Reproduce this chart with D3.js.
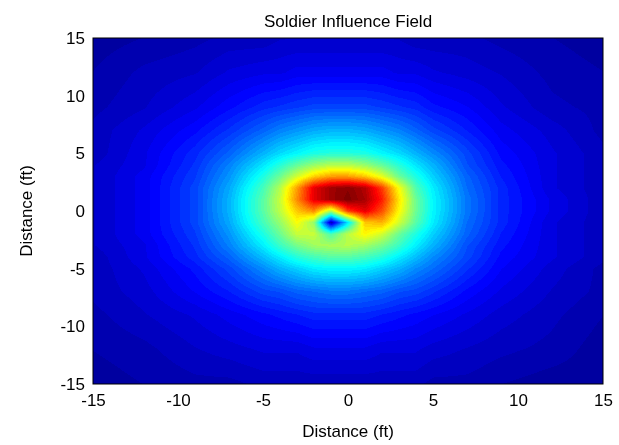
<!DOCTYPE html>
<html><head><meta charset="utf-8">
<script src="https://cdn.jsdelivr.net/npm/d3@7"></script>
<style>
body{margin:0;background:#fff;font-family:"Liberation Sans",Arial,sans-serif;}
#wrap{position:relative;width:619px;height:445px;}
canvas,svg{position:absolute;left:0;top:0;}
</style></head><body>
<div id="wrap"><canvas id="cv" width="619" height="445"></canvas><svg id="sv" width="619" height="445"></svg></div>
<script>
const TITLE = "Soldier Influence Field";
const X_LABEL = "Distance (ft)";
const Y_LABEL = "Distance (ft)";
const TICKS = [-15, -10, -5, 0, 5, 10, 15];

// sample nodes (ft) and field values, rows from y=15 down to y=-15
const xNodes = [-15,-12,-9,-7,-5,-4,-3,-2,-1,0,1,2,3,4,5,7,9,12,15];
const yNodes = [15,12,9,7,5,4,3,2,1,0,-1,-2,-3,-4,-5,-7,-9,-12,-15];
const field = [
[.03,.04,.05,.06,.06,.07,.07,.07,.07,.07,.07,.07,.07,.06,.06,.06,.05,.04,.03],
[.04,.06,.07,.09,.10,.10,.11,.11,.11,.11,.11,.11,.10,.10,.09,.08,.07,.05,.04],
[.05,.07,.10,.13,.16,.17,.18,.19,.19,.19,.19,.18,.17,.16,.14,.12,.09,.06,.05],
[.06,.09,.13,.17,.22,.25,.27,.29,.30,.30,.29,.27,.25,.22,.19,.15,.11,.08,.05],
[.06,.10,.16,.22,.30,.34,.37,.40,.41,.41,.40,.37,.34,.30,.26,.19,.13,.09,.06],
[.07,.10,.17,.25,.35,.41,.47,.52,.55,.55,.52,.47,.41,.35,.30,.20,.14,.09,.06],
[.07,.11,.18,.27,.40,.48,.58,.67,.72,.72,.68,.60,.48,.40,.33,.22,.15,.09,.06],
[.07,.11,.19,.29,.44,.55,.72,.90,.97,.99,.95,.82,.62,.45,.36,.23,.16,.09,.06],
[.07,.11,.19,.30,.46,.57,.74,.90,.97,1.0,.96,.85,.65,.48,.37,.24,.16,.10,.06],
[.07,.11,.19,.30,.46,.56,.68,.74,.55,.82,.90,.80,.63,.48,.37,.24,.16,.10,.06],
[.07,.11,.19,.29,.44,.52,.62,.52,.06,.35,.68,.70,.58,.46,.36,.23,.16,.09,.06],
[.07,.11,.18,.27,.40,.48,.57,.57,.45,.56,.63,.58,.48,.40,.33,.22,.15,.09,.06],
[.07,.10,.17,.25,.36,.43,.49,.53,.54,.55,.53,.49,.43,.36,.30,.20,.14,.09,.06],
[.06,.10,.16,.22,.31,.36,.41,.44,.46,.46,.44,.41,.36,.31,.26,.19,.13,.09,.06],
[.06,.09,.14,.19,.26,.30,.33,.36,.37,.37,.36,.33,.30,.26,.23,.17,.12,.08,.05],
[.06,.08,.12,.15,.19,.20,.22,.23,.24,.24,.23,.22,.20,.19,.17,.13,.10,.07,.05],
[.05,.07,.09,.11,.13,.14,.15,.16,.16,.16,.16,.15,.14,.13,.12,.10,.08,.06,.04],
[.04,.05,.07,.08,.09,.09,.09,.10,.10,.10,.10,.09,.09,.09,.08,.07,.06,.05,.03],
[.03,.04,.05,.05,.06,.06,.06,.06,.06,.06,.06,.06,.06,.06,.05,.05,.04,.03,.03]
];

const LEFT = 93, RIGHT = 603, TOP = 38, BOTTOM = 384;
const x = d3.scaleLinear().domain([-15, 15]).range([LEFT, RIGHT]);
const y = d3.scaleLinear().domain([-15, 15]).range([BOTTOM, TOP]);

// matlab jet, 64 levels
function jet(v) {
    v = Math.max(0, Math.min(1, v));
    v = Math.round(v * 63) / 63;
    const r = Math.max(0, Math.min(1, 1.5 - Math.abs(4 * v - 3)));
    const g = Math.max(0, Math.min(1, 1.5 - Math.abs(4 * v - 2)));
    const b = Math.max(0, Math.min(1, 1.5 - Math.abs(4 * v - 1)));
    return [r * 255, g * 255, b * 255];
}

// shading interp between sample nodes
const xi = d3.scaleLinear().domain(xNodes).range(d3.range(xNodes.length));
const yi = d3.scaleLinear().domain(yNodes).range(d3.range(yNodes.length));
function valueAt(fx, fy) {
    const u = xi(fx), w = yi(fy);
    const i = Math.min(Math.floor(u), xNodes.length - 2), j = Math.min(Math.floor(w), yNodes.length - 2);
    const a = u - i, b = w - j;
    return field[j][i] * (1 - a) * (1 - b) + field[j][i + 1] * a * (1 - b) +
        field[j + 1][i] * (1 - a) * b + field[j + 1][i + 1] * a * b;
}

const ctx = document.getElementById("cv").getContext("2d");
const img = ctx.createImageData(RIGHT - LEFT, BOTTOM - TOP);
for (let py = 0; py < BOTTOM - TOP; py++) {
    for (let px = 0; px < RIGHT - LEFT; px++) {
        const c = jet(valueAt(x.invert(LEFT + px + 0.5), y.invert(TOP + py + 0.5)));
        const k = (py * (RIGHT - LEFT) + px) * 4;
        img.data[k] = c[0]; img.data[k + 1] = c[1]; img.data[k + 2] = c[2]; img.data[k + 3] = 255;
    }
}
ctx.putImageData(img, LEFT, TOP);

const svg = d3.select("#sv");
svg.append("rect").attr("x", LEFT).attr("y", TOP)
    .attr("width", RIGHT - LEFT).attr("height", BOTTOM - TOP)
    .attr("fill", "none").attr("stroke", "#000").attr("stroke-width", 1);

const fmt = d => d < 0 ? "-" + Math.abs(d) : "" + d;
svg.append("g").attr("transform", "translate(0," + BOTTOM + ")")
    .call(d3.axisBottom(x).tickValues(TICKS).tickFormat(fmt).tickSize(0).tickPadding(10))
    .call(g => g.select(".domain").remove())
    .attr("font-size", "17px").attr("font-family", "Liberation Sans, Arial, sans-serif");
svg.append("g").attr("transform", "translate(" + LEFT + ",0)")
    .call(d3.axisLeft(y).tickValues(TICKS).tickFormat(fmt).tickSize(0).tickPadding(8))
    .call(g => g.select(".domain").remove())
    .attr("font-size", "17px").attr("font-family", "Liberation Sans, Arial, sans-serif");
svg.selectAll(".tick text").attr("fill", "#000");

svg.append("text").attr("x", (LEFT + RIGHT) / 2).attr("y", 27).attr("text-anchor", "middle")
    .attr("font-size", "17px").text(TITLE);
svg.append("text").attr("x", (LEFT + RIGHT) / 2).attr("y", 437).attr("text-anchor", "middle")
    .attr("font-size", "17px").text(X_LABEL);
svg.append("text").attr("transform", "translate(32," + (TOP + BOTTOM) / 2 + ") rotate(-90)")
    .attr("text-anchor", "middle").attr("font-size", "17px").text(Y_LABEL);
</script>
</body></html>
